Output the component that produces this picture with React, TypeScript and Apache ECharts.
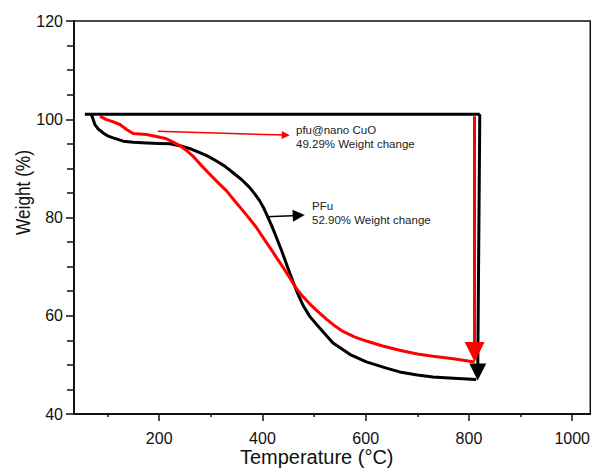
import React, { useEffect, useRef } from "react";
import * as echarts from "echarts";

// PFu (black) TGA curve
const pfuTemp = [69, 72, 75.5, 82, 91.5, 100, 110.9, 130.3, 150, 175.5, 200, 220.6, 246.4, 262, 278.7, 295, 311, 327, 343.1, 360, 375.5, 385, 394.8, 403, 410.9, 419, 427.1, 437, 446.5, 456, 465.8, 478, 491.6, 510.9, 536.7, 570, 601.3, 640, 665.8, 700, 730.2, 770, 814.2];
const pfuWeight = [100.8, 100.0, 98.91, 98.01, 97.22, 96.62, 96.21, 95.54, 95.33, 95.19, 95.08, 95.0, 94.44, 93.94, 93.21, 92.45, 91.49, 90.46, 89.11, 87.68, 86.07, 84.8, 83.38, 81.82, 79.99, 78.05, 75.94, 73.28, 70.55, 67.82, 65.13, 62.25, 59.87, 57.49, 54.45, 52.1, 50.6, 49.34, 48.57, 47.95, 47.55, 47.26, 47.03];

// pfu@nano CuO (red) TGA curve
const cuoTemp = [85.2, 98.1, 110, 123.9, 136.8, 149.6, 175.5, 201.3, 214.2, 227, 240, 252.9, 265.7, 282, 298, 314, 330.4, 346, 362.5, 375, 388.4, 401, 414.2, 427, 440, 453, 465.8, 478, 491.6, 507, 523.9, 540, 556, 578, 601.3, 633, 665.8, 700, 730.2, 770, 810.9];
const cuoWeight = [100.6, 99.94, 99.5, 98.93, 97.91, 97.1, 96.9, 96.32, 96.03, 95.33, 94.64, 93.64, 92.45, 90.56, 88.79, 87.09, 85.41, 83.41, 81.35, 79.74, 77.97, 75.96, 73.91, 71.89, 69.85, 67.72, 65.53, 63.94, 62.43, 60.9, 59.3, 57.95, 56.8, 55.7, 54.85, 53.85, 52.97, 52.22, 51.75, 51.23, 50.6];

// Reference (initial weight) line and weight-change arrows
const baseTemp = [56, 821];
const baseWeight = [101, 101];
const pfuDropArrow = [[821, 101], [817, 48.55]];
const cuoDropArrow = [[811, 100.6], [811, 52.62]];
const cuoLabelArrow = [[197.4, 97.57], [445.2, 96.77]];
const pfuLabelArrow = [[407.8, 80.13], [470.3, 80.43]];

const xMajorTicks = [200, 400, 600, 800, 1000];
const xMinorTicks = [100, 300, 500, 700, 900];

const cuoLabel = ["pfu@nano CuO", "49.29% Weight change"];
const pfuLabel = ["PFu", "52.90% Weight change"];

const FONT = "'Liberation Sans', Arial, sans-serif";

const zip = (a: number[], b: number[]) => a.map((v, i) => [v, b[i]]);

export default function App() {
  const ref = useRef<HTMLDivElement>(null);
  useEffect(() => {
    if (!ref.current) return;
    const chart = echarts.init(ref.current, null, { renderer: "svg" });
    const txt = (x: number, y: number, s: string, size = 11.5) => ({
      type: "text",
      x,
      y,
      style: { text: s, fill: "#222", font: `${size}px ${FONT}`, textVerticalAlign: "middle", textAlign: "left" },
    });
    chart.setOption({
      animation: false,
      backgroundColor: "#fff",
      grid: {
        left: 74,
        top: 21,
        width: 516.7,
        height: 393,
        show: true,
        borderColor: "#111",
        borderWidth: 1.5,
        backgroundColor: "transparent",
      },
      xAxis: [
        {
          type: "value",
          min: 35,
          max: 1035,
          position: "bottom",
          splitLine: { show: false },
          axisLine: { show: true, lineStyle: { color: "#111", width: 2 } },
          axisTick: { show: true, customValues: xMajorTicks, length: 7, lineStyle: { color: "#111", width: 1.5 } },
          axisLabel: {
            customValues: xMajorTicks,
            formatter: (v: number) => String(v),
            fontSize: 16,
            color: "#111",
            margin: 16,
            fontFamily: FONT,
          },
        },
        {
          type: "value",
          min: 35,
          max: 1035,
          position: "bottom",
          splitLine: { show: false },
          axisLine: { show: false },
          axisTick: { show: true, customValues: xMinorTicks, length: 3, lineStyle: { color: "#111", width: 1.5 } },
          axisLabel: { show: false },
        },
      ],
      yAxis: {
        type: "value",
        min: 40,
        max: 120,
        interval: 20,
        splitLine: { show: false },
        axisLine: { show: true, lineStyle: { color: "#111", width: 2 } },
        axisTick: { show: true, length: 8, lineStyle: { color: "#111", width: 1.5 } },
        minorTick: { show: true, splitNumber: 4, length: 7, lineStyle: { color: "#111", width: 1.5 } },
        axisLabel: { fontSize: 16, color: "#111", margin: 11, fontFamily: FONT },
      },
      series: [
        {
          type: "line",
          data: zip(baseTemp, baseWeight),
          symbol: "none",
          lineStyle: { color: "#000", width: 3 },
        },
        {
          type: "line",
          data: zip(pfuTemp, pfuWeight),
          symbol: "none",
          smooth: false,
          lineStyle: { color: "#000", width: 3, join: "round" },
        },
        {
          type: "line",
          data: zip(cuoTemp, cuoWeight),
          symbol: "none",
          smooth: false,
          lineStyle: { color: "#f00", width: 3, join: "round" },
        },
        {
          type: "lines",
          coordinateSystem: "cartesian2d",
          symbol: ["none", "triangle"],
          symbolSize: [10, 17],
          lineStyle: { color: "#000", width: 3, opacity: 1 },
          itemStyle: { color: "#000" },
          data: [{ coords: pfuDropArrow }],
        },
        {
          type: "lines",
          coordinateSystem: "cartesian2d",
          symbol: ["none", "triangle"],
          symbolSize: [11, 20],
          lineStyle: { color: "#f00", width: 3, opacity: 1 },
          itemStyle: { color: "#f00" },
          data: [{ coords: cuoDropArrow }],
        },
        {
          type: "lines",
          coordinateSystem: "cartesian2d",
          symbol: ["none", "triangle"],
          symbolSize: [5, 8],
          lineStyle: { color: "#f00", width: 1.5, opacity: 1 },
          itemStyle: { color: "#f00" },
          data: [{ coords: cuoLabelArrow }],
        },
        {
          type: "lines",
          coordinateSystem: "cartesian2d",
          symbol: ["none", "triangle"],
          symbolSize: [6, 12],
          lineStyle: { color: "#000", width: 1.5, opacity: 1 },
          itemStyle: { color: "#000" },
          data: [{ coords: pfuLabelArrow }],
        },
      ],
      graphic: [
        txt(296, 129.5, cuoLabel[0]),
        txt(296, 143.5, cuoLabel[1]),
        txt(312, 206, pfuLabel[0]),
        txt(312, 219.5, pfuLabel[1]),
        {
          type: "text",
          x: 316.7,
          y: 456.5,
          style: { text: "Temperature (°C)", fill: "#111", font: `20px ${FONT}`, textAlign: "center", textVerticalAlign: "middle" },
        },
        {
          type: "text",
          x: 23,
          y: 192.5,
          rotation: Math.PI / 2,
          scaleX: 0.82,
          style: { text: "Weight (%)", fill: "#111", font: `21px ${FONT}`, textAlign: "center", textVerticalAlign: "middle" },
        },
      ],
    });
    return () => chart.dispose();
  }, []);
  return <div ref={ref} style={{ position: "fixed", left: 0, top: 0, width: 593, height: 469 }} />;
}
